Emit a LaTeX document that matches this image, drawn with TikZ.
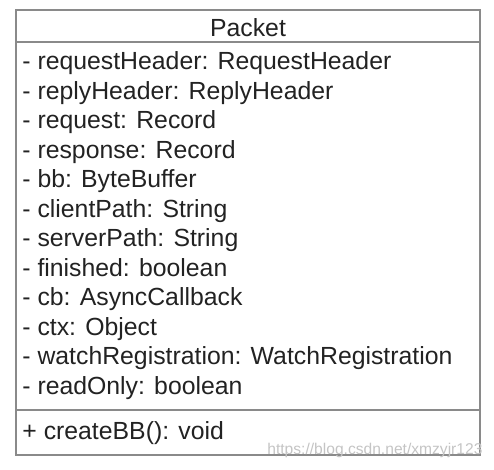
\documentclass[tikz,border=0pt]{standalone}
\usepackage{fontspec}
\setmainfont{Liberation Sans}
\usepackage{xcolor}
\definecolor{Ink}{HTML}{222222}
\definecolor{Frame}{HTML}{8A8A8A}
\definecolor{Mark}{HTML}{C4C4C4}
\usetikzlibrary{positioning}

\begin{document}
\begin{tikzpicture}[x=0.5pt, y=-0.5pt,
  frame/.style={draw=Frame, line width=0.6pt},
  title/.style={font=\fontsize{12.4}{15}\selectfont, color=Ink, inner sep=0pt, anchor=base},
  attr/.style={font=\fontsize{12.4}{15}\selectfont, color=Ink, inner sep=0pt, anchor=base west},
  wmark/.style={font=\fontsize{7.8}{9}\selectfont, color=Mark, inner sep=0pt, anchor=base west}
]
\useasboundingbox (0,0) rectangle (494,470);

%% ---- Class box ----
\draw[frame] (16,10) rectangle (480,455);
\draw[frame] (16,42) -- (480,42);
\draw[frame] (16,410) -- (480,410);

%% ---- Class name ----
\node[title] (packet) at (248,37) {Packet};

%% ---- Attributes ----
\foreach \txt [count=\i] in {- requestHeader: RequestHeader, - replyHeader: ReplyHeader,
    - request: Record, - response: Record, - bb: ByteBuffer, - clientPath: String,
    - serverPath: String, - finished: boolean, - cb: AsyncCallback, - ctx: Object,
    - watchRegistration: WatchRegistration, - readOnly: boolean}
  \node[attr] (attr\i) at (22,{70+29.5*(\i-1)}) {\txt};

%% ---- Operations ----
\node[attr] (createbb) at (22,440) {+ createBB(): void};

%% ---- Watermark ----
\node[wmark] (url) at (267,455) {https://blog.csdn.net/xmzyjr123};

\end{tikzpicture}
\end{document}
